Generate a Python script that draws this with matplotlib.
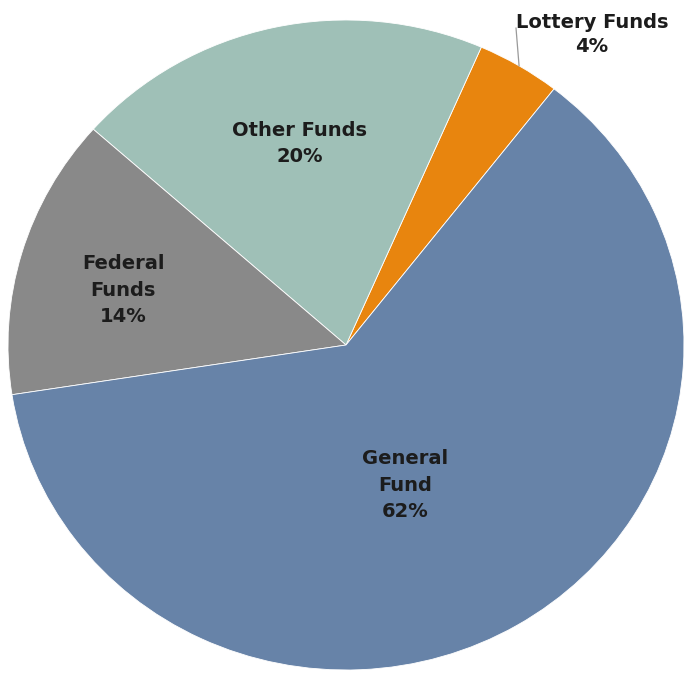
import numpy as np
import matplotlib
matplotlib.use("Agg")
import matplotlib.pyplot as plt

# slices, counter-clockwise from the start angle
labels = ["Lottery Funds", "Other Funds", "Federal\nFunds", "General\nFund"]
shares = [4, 20, 14, 62]
colors = ["#e8850e", "#9fc0b7", "#898989", "#6783a8"]

# label placement: (radius, angle nudge in degrees) relative to wedge middle
LABEL_POS = [None, (0.635, 0.0), (0.68, 2.0), (0.465, -8.3)]

fig = plt.figure(figsize=(6.88, 6.73), dpi=100)
# the source picture is slightly stretched, so the pie fills an ellipse
ax = fig.add_axes([8 / 688, 3 / 673, 676 / 688, 650 / 673])

wedges, _ = ax.pie(shares, colors=colors, startangle=52, counterclock=True,
                   radius=1.0,
                   wedgeprops=dict(edgecolor="white", linewidth=0.6))
ax.set_aspect("auto")
ax.set_xlim(-1, 1)
ax.set_ylim(-1, 1)
ax.axis("off")

txt = dict(fontsize=14, fontweight="bold", color="#1c1c1c",
           ha="center", va="center", family="DejaVu Sans", linespacing=1.5)

for w, lbl, pct, pos in zip(wedges, labels, shares, LABEL_POS):
    mid = np.deg2rad((w.theta1 + w.theta2) / 2)
    if pos is None:
        # outside label with a thin leader line
        x0, y0 = np.cos(mid), np.sin(mid)
        ax.plot([x0, 0.503], [y0, 0.975], color="#9a9a9a", lw=0.9,
                clip_on=False)
        ax.text(0.728, 0.955, f"{lbl}\n{pct}%", clip_on=False,
                **{**txt, "linespacing": 1.3})
        continue
    r, nudge = pos
    a = mid + np.deg2rad(nudge)
    ax.text(r * np.cos(a), r * np.sin(a), f"{lbl}\n{pct}%", **txt)

fig.savefig("out.png", dpi=100, facecolor="white")
